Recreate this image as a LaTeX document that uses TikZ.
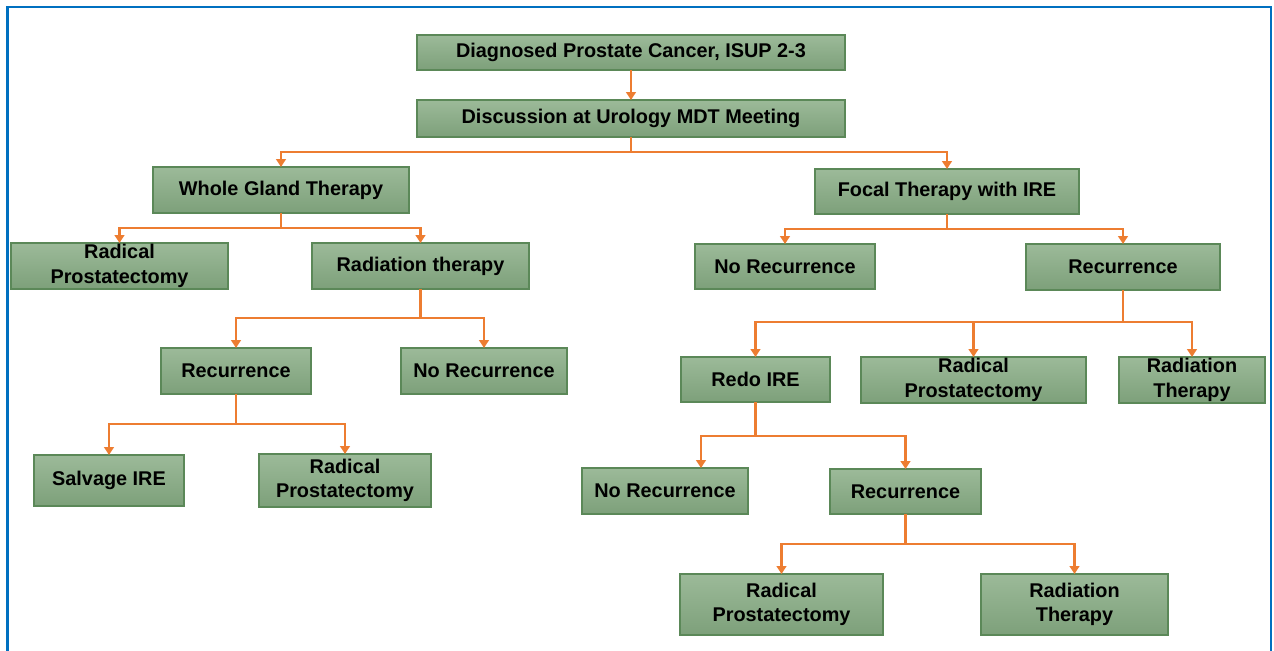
\documentclass[tikz,border=0pt]{standalone}
\usepackage{fontspec}
\setmainfont{Liberation Sans}
\usetikzlibrary{positioning, arrows.meta}

\definecolor{boxtop}{HTML}{9CBA99}
\definecolor{boxbot}{HTML}{7DA07A}
\definecolor{boxline}{HTML}{5B8858}
\definecolor{linkorange}{HTML}{ED7D31}
\definecolor{frameblue}{HTML}{0070C0}

\tikzset{
  gbox/.style 2 args={draw=boxline, line width=0.6pt, top color=boxtop, bottom color=boxbot,
    minimum width=#1, minimum height=#2, inner sep=0pt, outer sep=0pt, align=center,
    text=black, font=\fontsize{11.3}{14}\selectfont\bfseries},
  link/.style={draw=linkorange, line width=1.3pt, -{Triangle[length=4.5pt,width=5.5pt]}},
  drop/.style={to path={-- ++(0,-#1) -| (\tikztotarget)}}
}

\begin{document}
\begin{tikzpicture}
	\useasboundingbox (0,0) rectangle (254.8mm,-130.2mm);
	\draw[frameblue, line width=1.2pt] (1.5mm,-130.2mm) |- (254.2mm,-1.4mm) -- (254.2mm,-130.2mm);

	\node[gbox={85.6mm}{7mm}] (diag) at (126.2mm,-10.5mm) {Diagnosed Prostate Cancer, ISUP 2-3};
	\node[gbox={85.6mm}{7.4mm}, below=6mm of diag] (mdt) {Discussion at Urology MDT Meeting};
	\node[gbox={51.2mm}{9.2mm}, below=6mm of mdt, xshift=-70mm] (whole) {Whole Gland Therapy};
	\node[gbox={52.8mm}{9mm}, below=6.4mm of mdt, xshift=63.2mm] (focal) {Focal Therapy with IRE};

	% whole gland branch
	\node[gbox={43.4mm}{9.2mm}, below=6mm of whole, xshift=-32.3mm] (radprostA) {Radical\\Prostatectomy};
	\node[gbox={43.4mm}{9.2mm}, below=6mm of whole, xshift=27.9mm] (radther) {Radiation therapy};
	\node[gbox={30mm}{9.2mm}, below=11.8mm of radther, xshift=-36.9mm] (recA) {Recurrence};
	\node[gbox={33.2mm}{9.2mm}, below=11.8mm of radther, xshift=12.7mm] (norecA) {No Recurrence};
	\node[gbox={30mm}{10.2mm}, below=12.2mm of recA, xshift=-25.4mm] (salv) {Salvage IRE};
	\node[gbox={34.4mm}{10.6mm}, below=12mm of recA, xshift=21.8mm] (radprostB) {Radical\\Prostatectomy};

	% focal branch
	\node[gbox={36mm}{9mm}, below=6mm of focal, xshift=-32.4mm] (norecB) {No Recurrence};
	\node[gbox={38.8mm}{9.2mm}, below=6mm of focal, xshift=35.2mm] (recB) {Recurrence};
	\node[gbox={29.8mm}{9mm}, below=13.4mm of recB, xshift=-73.5mm] (redo) {Redo IRE};
	\node[gbox={45mm}{9.2mm}, below=13.4mm of recB, xshift=-29.9mm] (radprostC) {Radical\\Prostatectomy};
	\node[gbox={29.2mm}{9.2mm}, below=13.4mm of recB, xshift=13.8mm] (radtherB) {Radiation\\Therapy};
	\node[gbox={33.2mm}{9.2mm}, below=13.2mm of redo, xshift=-18.1mm] (norecC) {No Recurrence};
	\node[gbox={30.2mm}{9mm}, below=13.4mm of redo, xshift=30mm] (recC) {Recurrence};
	\node[gbox={40.6mm}{12.2mm}, below=12mm of recC, xshift=-24.8mm] (radprostD) {Radical\\Prostatectomy};
	\node[gbox={37.4mm}{12.2mm}, below=12mm of recC, xshift=33.8mm] (radtherC) {Radiation\\Therapy};

	\coordinate (norecCin) at ([xshift=7.2mm]norecC.north);

	\path[every edge/.style={link}]
	(diag.south) edge (mdt.north)
	(mdt.south) edge[drop=3mm] (whole.north)
	(mdt.south) edge[drop=3mm] (focal.north)
	(whole.south) edge[drop=3mm] (radprostA.north)
	(whole.south) edge[drop=3mm] (radther.north)
	(radther.south) edge[drop=5.8mm] (recA.north)
	(radther.south) edge[drop=5.8mm] (norecA.north)
	(recA.south) edge[drop=6mm] (salv.north)
	(recA.south) edge[drop=6mm] (radprostB.north)
	(focal.south) edge[drop=3mm] (norecB.north)
	(focal.south) edge[drop=3mm] (recB.north)
	(recB.south) edge[drop=6.4mm] (redo.north)
	(recB.south) edge[drop=6.4mm] (radprostC.north)
	(recB.south) edge[drop=6.4mm] (radtherB.north)
	(redo.south) edge[drop=6.8mm] (norecCin)
	(redo.south) edge[drop=6.8mm] (recC.north)
	(recC.south) edge[drop=6mm] (radprostD.north)
	(recC.south) edge[drop=6mm] (radtherC.north);
\end{tikzpicture}
\end{document}
